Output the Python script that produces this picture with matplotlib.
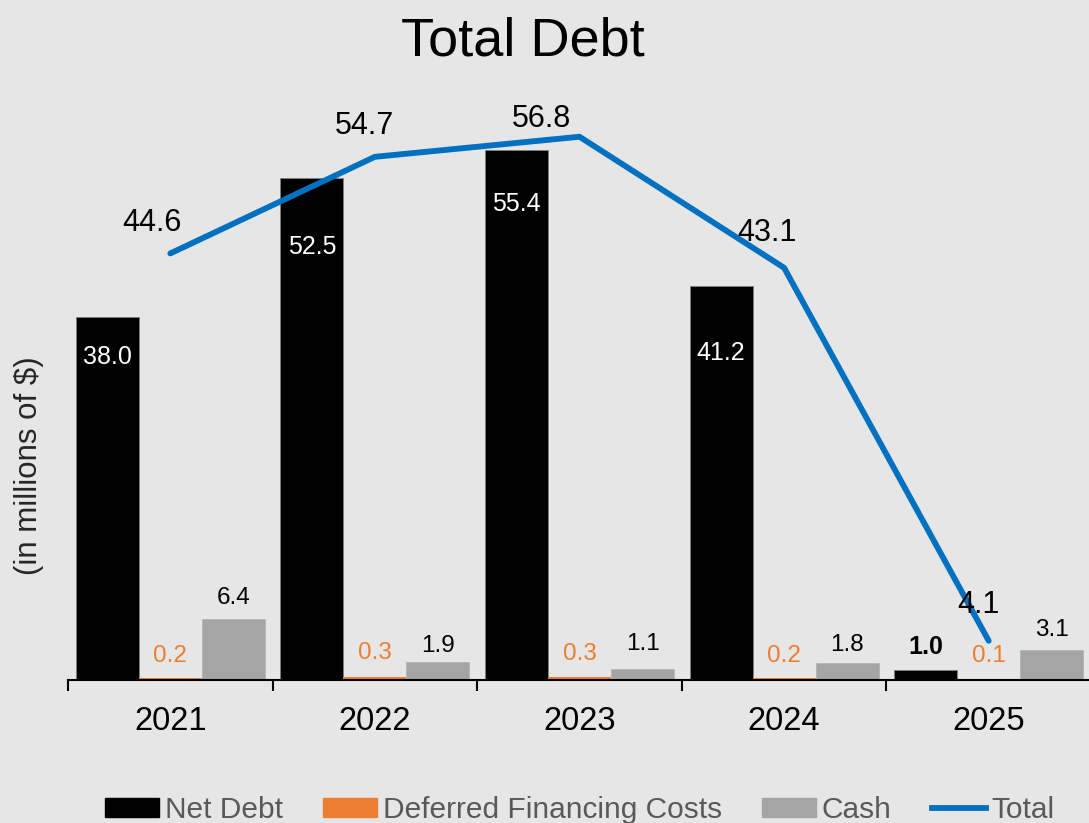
import matplotlib.pyplot as plt
import numpy as np

plt.rcParams["font.family"] = ["Liberation Sans", "DejaVu Sans"]

BG = "#e7e6e6"
NET_COLOR = "#000000"
DEFERRED_COLOR = "#ed7d31"
CASH_COLOR = "#a5a5a5"
TOTAL_COLOR = "#0070c0"

years = ["2021", "2022", "2023", "2024", "2025"]
net_debt = [38.0, 52.5, 55.4, 41.2, 1.0]
deferred = [0.2, 0.3, 0.3, 0.2, 0.1]
cash = [6.4, 1.9, 1.1, 1.8, 3.1]
total = [44.6, 54.7, 56.8, 43.1, 4.1]

# label nudges in pixels (dx, dy), placed by hand
net_label_dy = [-40, -69, -54, -67, 23]
net_label_colors = ["white", "white", "white", "white", "black"]
deferred_label_dy = [22, 24, 23, 22, 23]
cash_label_dy = [21, 16, 25, 18, 20]
total_label_off = [(-18, 30), (-10, 31), (-38, 18), (-17, 35), (-10, 36)]

fig = plt.figure(figsize=(10.89, 8.23), dpi=100, facecolor=BG)
ax = fig.add_axes([68 / 1089, 1 - 680 / 823, 1023 / 1089, 593 / 823])
ax.set_facecolor(BG)

x = np.arange(len(years))
w = 0.308

ax.bar(x - w, net_debt, w, color=NET_COLOR, edgecolor="#808080", linewidth=0.6, zorder=2)
ax.bar(x, deferred, w, color=DEFERRED_COLOR, zorder=2)
ax.bar(x + w, cash, w, color=CASH_COLOR, edgecolor="#b5b5b5", linewidth=0.6, zorder=2)
ax.plot(x, total, color=TOTAL_COLOR, linewidth=4.2, solid_capstyle="round", zorder=3)

for i in range(len(years)):
    ax.annotate(f"{net_debt[i]:.1f}", (x[i] - w, net_debt[i]), xytext=(0, net_label_dy[i]),
                textcoords="offset pixels", ha="center", va="center", fontsize=18,
                color=net_label_colors[i], fontweight="bold" if i == 4 else "normal", zorder=4)
    ax.annotate(f"{deferred[i]:.1f}", (x[i], deferred[i]), xytext=(0, deferred_label_dy[i]),
                textcoords="offset pixels", ha="center", va="center", fontsize=17.5,
                color=DEFERRED_COLOR, zorder=4)
    ax.annotate(f"{cash[i]:.1f}", (x[i] + w, cash[i]), xytext=(0, cash_label_dy[i]),
                textcoords="offset pixels", ha="center", va="center", fontsize=17.5,
                color="black", zorder=4)
    dx, dy = total_label_off[i]
    ax.annotate(f"{total[i]:.1f}", (x[i], total[i]), xytext=(dx, dy),
                textcoords="offset pixels", ha="center", va="center", fontsize=22,
                color="black", zorder=4)

ax.set_xlim(-0.5, len(years) - 0.5)
ax.set_ylim(0, 62)

# boundary ticks between years, labels at the centres
ax.set_xticks(np.arange(-0.5, len(years)), labels=[])
ax.set_xticks(x, labels=years, minor=True)
ax.tick_params(axis="x", which="major", length=8, width=1.5, color="black", direction="out")
ax.tick_params(axis="x", which="minor", length=0, pad=19, labelsize=23.5, labelcolor="black")
ax.set_yticks([])

for side in ["top", "right", "left"]:
    ax.spines[side].set_visible(False)
ax.spines["bottom"].set_linewidth(1.5)
ax.spines["bottom"].set_color("black")

fig.text(523 / 1089, 1 - 55 / 823, "Total Debt", ha="center", va="baseline", fontsize=39, color="black")
fig.text(29 / 1089, 1 - 466 / 823, "(in millions of $)", ha="center", va="center",
         rotation=90, fontsize=22.5, color="#262626")

handles = [
    plt.Rectangle((0, 0), 1, 1, color=NET_COLOR),
    plt.Rectangle((0, 0), 1, 1, color=DEFERRED_COLOR),
    plt.Rectangle((0, 0), 1, 1, color=CASH_COLOR),
    plt.Line2D([0], [0], color=TOTAL_COLOR, linewidth=4.2),
]
leg = fig.legend(handles, ["Net Debt", "Deferred Financing Costs", "Cash", "Total"],
                 loc="center", bbox_to_anchor=(580 / 1089, 1 - 810 / 823), ncol=4,
                 frameon=False, fontsize=21.5, handlelength=1.8, handleheight=0.6,
                 handletextpad=0.2, columnspacing=1.35, borderaxespad=0)
for t in leg.get_texts():
    t.set_color("#595959")

fig.savefig("out.png", dpi=100, facecolor=BG)
